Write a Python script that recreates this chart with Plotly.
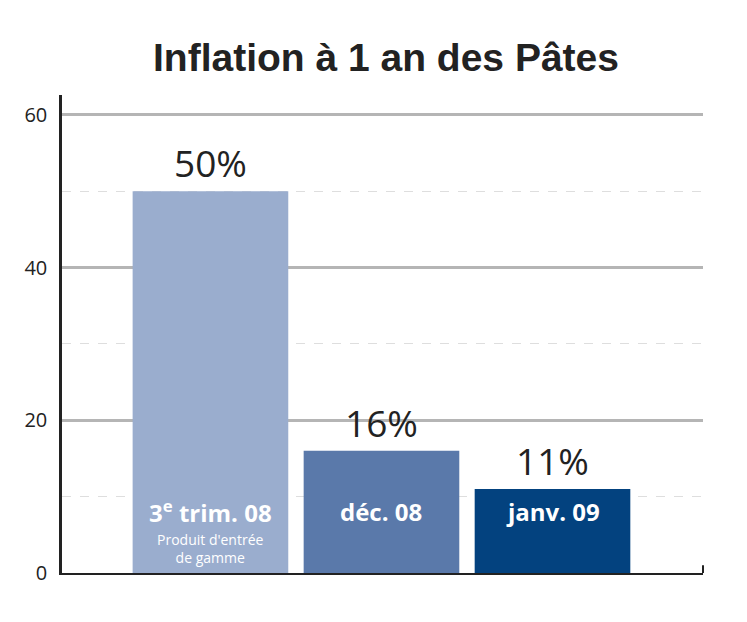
import plotly.graph_objects as go

categories = ["3e trim. 08", "déc. 08", "janv. 09"]
bar_labels = ["3<sup>e</sup> trim. 08", "déc. 08", "janv. 09"]
sub_labels = ["Produit d'entrée<br>de gamme", "", ""]
values = [50, 16, 11]
value_text = ["50%", "16%", "11%"]
colors = ["#9AADCE", "#5A79AA", "#03427F"]
y_ticks = [0, 20, 40, 60]

fig = go.Figure()
fig.add_trace(go.Bar(
    x=list(range(len(categories))), y=values,
    marker=dict(color=colors, line=dict(width=0)),
    width=0.91,
    text=value_text, textposition="outside", cliponaxis=False,
    textfont=dict(family="Open Sans", size=37, color="#222222"),
    hoverinfo="skip",
))

for i, lab in enumerate(bar_labels):
    fig.add_annotation(x=i, y=8.1, xref="x", yref="y", text=f"<b>{lab}</b>",
                       showarrow=False, yanchor="middle",
                       font=dict(family="Open Sans", size=24, color="white"))
    if sub_labels[i]:
        fig.add_annotation(x=i, y=5.85, xref="x", yref="y", text=sub_labels[i],
                           showarrow=False, yanchor="top",
                           font=dict(family="Open Sans", size=14, color="white"))

# small end tick on the x axis
fig.add_shape(type="line", xref="paper", yref="y", x0=1, x1=1, y0=0, y1=1,
              line=dict(color="#222222", width=2))

fig.update_layout(
    width=747, height=622,
    margin=dict(l=54, r=52, t=87, b=57),
    paper_bgcolor="white", plot_bgcolor="white",
    showlegend=False,
    title=dict(text="<b>Inflation à 1 an des Pâtes</b>", x=0.506, xanchor="center",
               y=0.921, yanchor="middle",
               font=dict(family="Liberation Sans", size=39, color="#222222")),
    xaxis=dict(range=[-0.868, 2.88], showticklabels=False, showgrid=False,
               zeroline=False, showline=True, linecolor="#222222", linewidth=2,
               ticks=""),
    yaxis=dict(range=[0, 62.6], tickvals=y_ticks, showgrid=True,
               gridcolor="#b5b5b5", gridwidth=2.5, zeroline=False,
               showline=True, linecolor="#222222", linewidth=2.5,
               ticks="", ticklabelstandoff=8,
               tickfont=dict(family="Open Sans", size=20, color="#222222"),
               minor=dict(dtick=10, tick0=0, showgrid=True, gridcolor="#dedede",
                          gridwidth=1, griddash="dash")),
)

fig.write_html("out.html")
